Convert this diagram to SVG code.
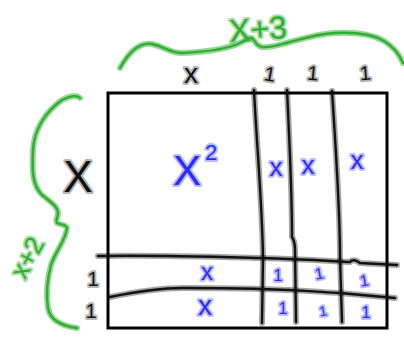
<svg xmlns="http://www.w3.org/2000/svg" xmlns:xlink="http://www.w3.org/1999/xlink" width="404" height="339" viewBox="0 0 404 339">
<style>
.halo{fill:none;stroke-linecap:round;stroke-linejoin:round;stroke-width:6}
.core{fill:none;stroke-linecap:round;stroke-linejoin:round;stroke-width:2.4}
.k.halo{stroke:#000;stroke-opacity:.35}
.k.core{stroke:#111}
.g.halo{stroke:#3fb53f;stroke-opacity:.55}
.g.core{stroke:#2fae2f}
.t{font-family:"Liberation Sans","DejaVu Sans",sans-serif;paint-order:stroke;stroke-linejoin:round;text-anchor:middle}
.tk{fill:#111;stroke:#000;stroke-opacity:.3;stroke-width:4}
.tb{fill:#2a2aff;stroke:#3b3bff;stroke-opacity:.35;stroke-width:4}
.tg{fill:#2fae2f;stroke:#3fb53f;stroke-opacity:.45;stroke-width:4}
</style>
<defs>
<path id="v1" d="M254,90 C257,150 262,200 263,258 L262,323"/>
<path id="v2" d="M287,90 C290,150 292,200 292,237 C294,240 295,243 295,250 L296,322"/>
<path id="v3" d="M332,91 C336,150 340,210 340,257 L342,322"/>
<path id="h1" d="M98,256 C150,255 220,257 260,258 C300,259 330,261 350,262 C352,259 356,260 360,263 L397,265"/>
<path id="h2" d="M110,297 C140,291 160,288 183,288 C215,288 240,288 260,289 C300,290 320,292 340,293 L395,298"/>
<path id="bt" d="M120,68 C130,50 140,42 152,44 C165,47 170,53 182,53 C205,52 225,50 240,43 C246,40 249,38 252,38 C256,42 256,46 262,47 C272,48 278,45 290,42 C305,38 318,34 335,33 C355,32 372,34 384,41 C394,47 400,56 403,63"/>
<path id="bl" d="M80,98 C77,95 70,96 62,100 C45,112 34,130 33,150 C32,170 32,185 42,195 C52,203 58,207 58,213 C58,218 55,220 57,223 C60,225 66,224 67,228 C66,240 55,252 51,265 C47,280 46,295 48,308 C50,320 62,326 77,328"/>
</defs>
<rect id="square" x="108" y="93" width="279" height="235" fill="none" stroke="#000" stroke-width="3"/>
<g id="connectors">
<use xlink:href="#v1" class="k halo"/><use xlink:href="#v1" class="k core"/>
<use xlink:href="#v2" class="k halo"/><use xlink:href="#v2" class="k core"/>
<use xlink:href="#v3" class="k halo"/><use xlink:href="#v3" class="k core"/>
<use xlink:href="#h1" class="k halo"/><use xlink:href="#h1" class="k core"/>
<use xlink:href="#h2" class="k halo"/><use xlink:href="#h2" class="k core"/>
</g>
<g id="braces">
<use xlink:href="#bt" class="g halo"/><use xlink:href="#bt" class="g core"/>
<use xlink:href="#bl" class="g halo"/><use xlink:href="#bl" class="g core"/>
</g>
<g id="top-labels">
<text class="t tg" x="258" y="40" font-size="32" transform="rotate(-4 258 30)">X+3</text>
<text class="t tk" x="191" y="83" font-size="28">x</text>
<text class="t tk" x="270" y="81" font-size="20" transform="rotate(10 270 73)">1</text>
<text class="t tk" x="313" y="80" font-size="20" transform="rotate(5 313 72)">1</text>
<text class="t tk" x="365" y="80" font-size="20" transform="rotate(-5 365 72)">1</text>
</g>
<g id="left-labels">
<text class="t tg" x="28" y="266" font-size="26" transform="rotate(-62 28 258)">x+2</text>
<text class="t tk" x="78" y="192" font-size="44">X</text>
<text class="t tk" x="93" y="286" font-size="20">1</text>
<text class="t tk" x="91" y="318" font-size="20">1</text>
</g>
<g id="cells">
<text class="t tb" x="187" y="185" font-size="42">X</text>
<text class="t tb" x="211" y="160" font-size="22">2</text>
<text class="t tb" x="276" y="176" font-size="26">x</text>
<text class="t tb" x="308" y="174" font-size="26">x</text>
<text class="t tb" x="357" y="169" font-size="26">x</text>
<text class="t tb" x="207" y="280" font-size="24">x</text>
<text class="t tb" x="205" y="315" font-size="28">x</text>
<text class="t tb" x="278" y="281" font-size="16">1</text>
<text class="t tb" x="319" y="279" font-size="16" transform="rotate(-10 319 273)">1</text>
<text class="t tb" x="364" y="286" font-size="16" transform="rotate(-10 364 280)">1</text>
<text class="t tb" x="283" y="314" font-size="16">1</text>
<text class="t tb" x="323" y="316" font-size="14" transform="rotate(-10 323 311)">1</text>
<text class="t tb" x="366" y="318" font-size="16">1</text>
</g>
</svg>
